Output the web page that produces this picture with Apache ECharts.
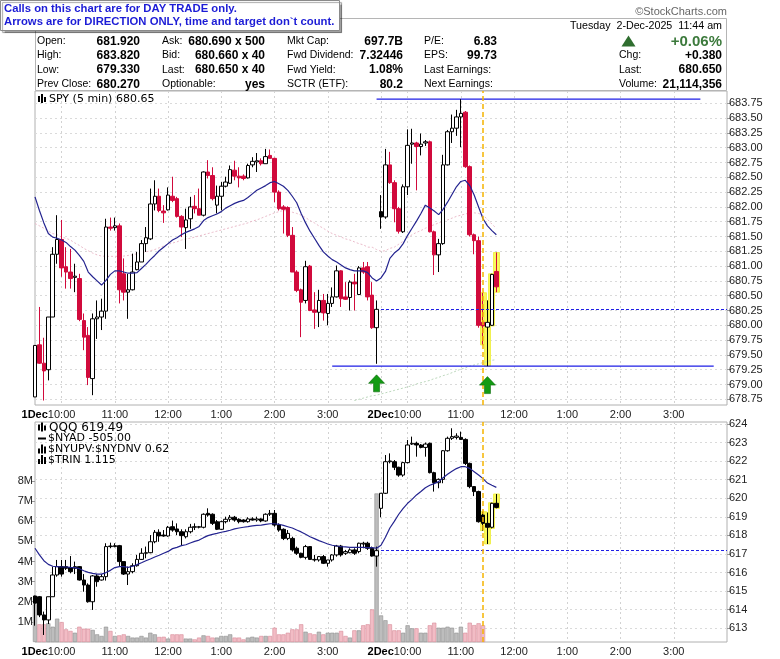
<!DOCTYPE html>
<html><head><meta charset="utf-8">
<script src="https://cdn.jsdelivr.net/npm/echarts@6/dist/echarts.min.js"></script>
<style>html,body{margin:0;padding:0;background:#fff}#c{width:780px;height:659px}</style>
</head><body><div id="c"></div>
<script>
// ---------- DATA ----------
const dayNames = ['1Dec', '2Dec'];
const spyTicks = [678.75,679.00,679.25,679.50,679.75,680.00,680.25,680.50,680.75,681.00,681.25,681.50,681.75,682.00,682.25,682.50,682.75,683.00,683.25,683.50,683.75];
const qqqTicks = [613,614,615,616,617,618,619,620,621,622,623,624];
const volTicks = [1,2,3,4,5,6,7,8];

// SPY 5-min candles [open, close, low, high]
const spyCandles = [
[678.79,679.66,678.79,679.66],[679.67,679.36,679.35,680.31],[679.36,679.23,678.73,679.79],[679.25,680.14,679.07,680.14],[680.14,681.20,680.14,681.32],
[681.20,681.45,681.04,681.86],[681.45,680.97,680.82,681.78],[680.99,680.90,680.62,681.32],[680.90,680.79,680.62,681.29],[680.81,680.83,680.56,681.04],
[680.79,680.10,680.07,680.87],[680.08,679.80,679.58,680.20],[679.83,679.12,678.99,679.97],[679.10,680.11,678.82,680.20],[680.11,680.14,679.77,680.42],
[680.14,680.24,679.92,680.45],[680.24,681.66,680.11,681.80],[681.66,681.64,681.60,681.82],[681.65,681.68,681.60,681.82],[681.68,680.60,680.37,681.72],
[680.87,680.56,680.42,681.13],[680.56,680.60,680.11,680.87],[680.60,680.90,680.59,681.21],[680.94,681.07,680.93,681.24],[681.07,681.38,681.07,681.44],
[681.38,681.48,681.24,681.66],[681.46,682.05,681.44,682.31],[682.05,682.18,681.94,682.45],[682.18,681.94,681.91,682.31],[681.93,681.90,681.73,682.03],
[681.95,682.20,681.94,682.33],[682.18,682.11,682.08,682.51],[682.14,681.84,681.82,682.17],[681.84,681.66,681.49,681.86],[681.65,681.78,681.29,681.97],
[681.80,682.00,681.63,682.17],[682.01,681.97,681.89,682.20],[681.97,681.86,681.86,682.31],[681.86,682.59,681.84,682.60],[682.59,682.53,682.48,682.79],
[682.53,682.14,682.11,682.67],[682.03,682.18,681.89,682.36],[682.18,682.35,681.94,682.42],[682.35,682.42,682.33,682.51],[682.40,682.63,682.39,682.70],
[682.62,682.52,682.45,682.78],[682.52,682.49,682.33,682.67],[682.52,682.48,682.45,682.55],[682.49,682.70,682.48,682.73],[682.71,682.77,682.67,682.84],
[682.76,682.78,682.59,682.91],[682.78,682.73,682.70,682.82],[682.73,682.85,682.73,682.98],[682.87,682.82,682.82,682.97],[682.82,682.25,682.08,682.83],
[682.25,681.97,681.94,682.28],[682.00,681.96,681.55,682.03],[681.99,681.52,681.49,682.01],[681.52,680.90,680.90,681.66],[680.90,680.59,680.56,680.93],
[680.60,680.39,679.80,680.62],[680.42,680.99,680.37,681.09],[681.00,680.25,680.24,681.02],[680.26,680.22,679.94,680.56],[680.22,680.42,679.97,680.60],
[680.42,680.21,680.08,680.53],[680.20,680.37,680.00,680.53],[680.37,680.48,680.31,680.64],[680.48,680.92,680.47,681.01],[680.92,680.45,680.31,680.93],
[680.48,680.44,680.43,680.73],[680.47,680.73,680.25,680.76],[680.73,680.70,680.25,680.87],[680.52,680.97,680.51,681.00],[680.97,680.90,680.87,681.07],
[680.99,680.48,680.42,681.07],[680.51,679.96,679.94,680.73],[679.96,680.27,679.35,680.42],
[681.92,681.83,681.63,682.20],[681.83,682.71,681.80,682.98],[682.71,682.41,682.39,682.93],[682.41,681.97,681.74,682.45],[681.97,681.59,681.55,682.00],
[681.58,682.34,681.56,682.38],[682.34,683.04,682.20,683.31],[683.06,683.08,682.73,683.32],[683.08,683.02,682.28,683.10],[683.02,683.06,682.87,683.24],
[683.08,683.10,683.03,683.13],[683.10,681.58,681.57,683.12],[681.58,681.19,680.85,681.60],[681.19,681.38,680.90,681.46],[681.38,682.71,681.36,682.88],
[682.71,683.27,682.70,683.30],[683.27,683.33,683.08,683.56],[683.33,683.52,683.20,683.64],[683.52,683.58,683.01,683.82],[683.60,682.68,682.66,683.62],
[682.68,681.53,681.50,682.70],[681.53,681.43,681.20,681.55],[681.43,680.00,679.96,681.50],[680.05,679.99,679.67,680.55],[679.97,680.05,679.31,680.42],
[680.00,680.86,679.99,680.87],[680.91,680.65,680.56,681.23]
];
const spyMA = [682.17,681.94,681.73,681.55,681.49,681.47,681.44,681.40,681.33,681.27,
681.18,681.08,680.90,680.82,680.75,680.68,680.76,680.86,680.92,680.92,
680.90,680.88,680.88,680.89,680.96,681.03,681.11,681.18,681.26,681.32,
681.38,681.44,681.48,681.53,681.57,681.60,681.63,681.67,681.77,681.82,
681.85,681.88,681.92,681.98,682.02,682.06,682.09,682.11,682.16,682.22,
682.28,682.32,682.36,682.41,682.43,682.39,682.35,682.28,682.18,682.07,
681.89,681.73,681.59,681.47,681.35,681.24,681.17,681.11,681.07,681.02,
680.97,680.94,680.92,680.92,680.92,680.89,680.80,680.75,680.80,680.91,
681.13,681.22,681.28,681.38,681.52,681.64,681.76,681.89,682.03,681.98,
681.93,681.87,681.96,682.08,682.21,682.34,682.43,682.45,682.36,682.20,
682.00,681.80,681.68,681.60,681.53];
const spyMA50 = [681.72,681.68,681.64,681.59,681.55,681.53,681.49,681.47,681.44,681.39,
681.35,681.30,681.26,681.22,681.19,681.17,681.165,681.165,681.165,681.165,
681.17,681.18,681.19,681.21,681.23,681.24,681.26,681.28,681.31,681.34,
681.37,681.39,681.41,681.44,681.46,681.47,681.49,681.51,681.53,681.55,
681.57,681.59,681.61,681.63,681.65,681.67,681.69,681.71,681.73,681.76,
681.78,681.81,681.84,681.87,681.90,681.92,681.94,681.93,681.91,681.89,
681.86,681.82,681.77,681.73,681.68,681.64,681.59,681.55,681.52,681.49,
681.46,681.44,681.41,681.38,681.36,681.32,681.32,681.28,681.25,681.26,
681.30,681.32,681.37,681.42,681.48,681.53,681.57,681.60,681.64,681.67,
681.70,681.73,681.76,681.78,681.81,681.84,681.86,681.88,681.90,681.90,
681.89,681.86,681.79,681.71,681.64];
const spyMA200Start = 72;
const spyMA200 = [678.73,678.75,678.77,678.79,678.81,678.82,678.84,678.86,678.88,678.90,678.92,678.94,678.96,678.98,679.01,679.03,679.05,679.07,679.10,679.12,679.15,679.17,679.20,679.23,679.26,679.28,679.31,679.33,679.35,679.37,679.39,679.41,679.42];

// QQQ 5-min candles [open, close, low, high]
const qqqCandles = [
[614.74,614.35,613.14,614.76],[614.70,613.72,613.60,614.74],[613.72,613.45,612.64,613.90],[613.45,614.70,613.23,614.70],[614.70,615.87,614.70,616.32],
[615.87,616.32,615.78,616.68],[616.32,615.92,615.78,616.68],[616.32,616.23,616.14,616.68],[616.27,616.05,615.96,616.89],[616.23,616.32,615.92,616.59],
[616.32,615.60,615.57,616.35],[615.60,615.33,614.97,615.92],[615.33,614.43,614.38,615.42],[614.43,615.82,613.99,615.87],[615.82,615.51,615.24,615.92],
[615.60,615.78,615.57,615.92],[615.78,617.40,615.57,617.58],[617.40,617.43,617.31,617.61],[617.40,617.45,617.36,617.58],[617.45,616.59,616.32,617.49],
[616.59,615.92,615.87,616.59],[615.92,616.05,615.33,616.32],[616.05,616.37,615.96,616.50],[616.37,616.71,616.32,616.95],[616.71,617.04,616.68,617.31],
[617.04,617.07,616.77,617.40],[617.07,617.66,617.04,618.02],[617.66,618.17,617.58,618.29],[618.17,617.97,617.66,618.33],[618.02,617.97,617.93,618.29],
[617.97,618.44,617.93,618.51],[618.47,618.29,618.20,618.80],[618.35,618.20,618.02,618.65],[618.20,617.99,617.43,618.33],[617.93,618.20,617.84,618.33],
[618.20,618.44,618.11,618.62],[618.44,618.47,618.29,618.65],[618.44,618.47,618.38,618.51],[618.44,619.14,618.38,619.19],[619.19,619.10,619.01,619.46],
[619.14,618.65,618.56,619.19],[618.74,618.33,618.29,618.83],[618.33,618.74,618.29,618.80],[618.74,618.87,618.65,619.01],[618.87,618.98,618.74,619.10],
[618.98,618.83,618.74,619.05],[618.87,618.74,618.65,618.92],[618.83,618.74,618.69,618.87],[618.74,618.89,618.69,618.98],[618.89,618.83,618.80,618.98],
[618.83,618.89,618.74,619.01],[618.89,618.78,618.71,618.92],[618.78,619.14,618.74,619.19],[619.14,619.19,619.05,619.37],[619.19,618.56,618.47,619.37],
[618.56,618.29,618.20,618.65],[618.33,617.84,617.75,618.38],[617.84,618.11,617.75,618.29],[617.84,617.22,617.13,617.93],[617.31,617.04,616.95,617.40],
[617.04,616.82,616.77,617.07],[616.82,617.40,616.71,617.49],[617.40,616.71,616.68,617.43],[616.68,616.71,616.59,616.95],[616.68,616.86,616.59,616.89],
[616.86,616.50,616.46,616.95],[616.50,616.68,616.32,616.68],[616.68,616.95,616.59,616.99],[616.95,617.43,616.86,617.49],[617.43,616.95,616.86,617.49],
[617.04,617.13,616.95,617.22],[617.07,617.22,617.04,617.31],[617.22,617.04,616.95,617.31],[617.13,617.58,617.04,617.61],[617.54,617.58,617.31,617.66],
[617.58,617.31,617.22,617.66],[617.31,616.89,616.86,617.40],[616.89,617.18,616.32,617.40],
[619.46,620.27,618.98,620.27],[620.27,621.97,620.23,622.33],[621.97,622.01,621.88,622.42],[621.97,621.67,621.52,622.06],[621.67,621.25,621.16,621.70],
[621.25,621.92,621.16,621.97],[621.92,622.87,621.88,623.14],[622.92,622.96,622.87,623.32],[622.96,622.87,622.24,623.05],[622.87,622.74,622.69,622.92],
[622.74,622.92,622.24,623.00],[622.96,621.38,621.34,623.00],[621.38,620.84,620.36,621.43],[620.84,621.02,620.54,621.07],[621.02,622.56,620.81,622.60],
[622.56,623.23,622.51,623.32],[623.23,623.32,623.14,623.77],[623.28,623.35,623.17,623.50],[623.28,623.17,623.14,623.59],[623.17,621.88,621.79,623.23],
[621.88,620.63,620.54,621.92],[620.63,620.36,620.12,620.66],[620.36,618.74,618.69,620.41],[619.10,618.65,618.26,619.28],[618.65,618.44,617.54,619.23],
[618.44,619.73,618.38,619.76],[619.73,619.51,619.46,620.23]
];
const qqqMA = [617.31,616.95,616.64,616.44,616.34,616.32,616.30,616.30,616.28,616.27,
616.21,616.10,616.01,615.96,615.92,615.92,616.00,616.12,616.27,616.32,
616.32,616.28,616.34,616.43,616.53,616.64,616.73,616.84,616.93,617.04,
617.14,617.29,617.36,617.45,617.50,617.59,617.68,617.75,617.88,617.99,
618.06,618.11,618.17,618.22,618.28,618.35,618.40,618.44,618.47,618.51,
618.54,618.56,618.60,618.63,618.63,618.60,618.54,618.47,618.40,618.29,
618.19,618.06,617.93,617.83,617.72,617.63,617.54,617.47,617.43,617.40,
617.38,617.36,617.36,617.36,617.36,617.34,617.34,617.31,617.47,617.90,
618.40,618.76,619.14,619.46,619.73,619.94,620.18,620.37,620.57,620.70,
620.79,620.90,621.11,621.29,621.45,621.60,621.70,621.70,621.61,621.43,
621.25,621.06,620.82,620.70,620.59];
// volume in millions
const volumeM = [1.87,0.88,0.88,0.93,0.76,1.16,0.99,0.63,0.55,0.46,
0.76,0.66,0.66,0.60,0.38,0.30,0.76,0.55,0.30,0.33,
0.38,0.30,0.22,0.22,0.30,0.22,0.46,0.38,0.25,0.26,
0.17,0.38,0.38,0.38,0.17,0.17,0.13,0.22,0.33,0.30,
0.22,0.22,0.30,0.30,0.38,0.22,0.22,0.13,0.22,0.26,
0.22,0.30,0.30,0.30,0.71,0.38,0.38,0.46,0.63,0.63,
0.88,0.51,0.43,0.38,0.51,0.38,0.46,0.46,0.46,0.55,
0.30,0.22,0.58,0.58,0.83,0.88,1.62,7.38,1.32,1.08,
0.88,0.58,0.58,0.46,0.83,0.68,0.68,0.46,0.46,0.83,
0.96,0.71,0.71,0.76,0.71,0.46,0.76,0.46,0.96,0.84,
0.93,0.83];

const spyPrevClose = 680.27, qqqPrevClose = 617.18;
const spyHighLine = 683.82, spyLowLine = 679.31;
const highLineSpan = [77, 150], lowLineSpan = [67, 153];
const highlightIdx = [101,102,103,104];
const markerIdx = 101;           // 11:25 vertical marker
const arrows = [[77, 679.02], [102, 678.99]];
const dec2Start = 78;

const quoteLabels = [['Open:','High:','Low:','Prev Close:'],['Ask:','Bid:','Last:','Optionable:'],['Mkt Cap:','Fwd Dividend:','Fwd Yield:','SCTR (ETF):'],['P/E:','EPS:','Last Earnings:','Next Earnings:'],['','Chg:','Last:','Volume:']];
const quoteValues = [['681.920','683.820','679.330','680.270'],['680.690 x 500','680.660 x 40','680.650 x 40','yes'],['697.7B','7.32446','1.08%','80.2'],['6.83','99.73','',''],['+0.06%','+0.380','680.650','21,114,356']];

// ---------- BUILD ----------
function pad(n){return (n<10?'0':'')+n;}
const categories = [];
for (let d=0; d<2; d++) for (let k=0; k<78; k++){ const m=570+5*k; categories.push(dayNames[d]+' '+pad(Math.floor(m/60))+':'+pad(m%60)); }
categories.push(dayNames[1]+' 16:00');

function isHour(i){ const t=categories[i].split(' ')[1]; const hh=+t.slice(0,2), mm=+t.slice(3); return mm===0 && hh>=10 && hh<=15; }
function isGrid(i){ return isHour(i) || i===dec2Start; }
function fmtX(value){
  const p=value.split(' '); const hh=+p[1].slice(0,2);
  if (hh===10) return '{d|'+p[0]+'}{t|10:00}{s|'+p[0]+'}';
  return '{t|'+(hh>12?hh-12:hh)+':00}';
}
const FONT='"Liberation Sans", Arial, sans-serif';
const RED='#d10a3c';
const BLUE='#1f1fe6';

const spyData = spyCandles.map((c,i)=>{
  const prev = i>0 ? spyCandles[i-1][1] : -Infinity;
  const col = c[1] >= prev ? '#000' : RED;
  const fill = c[1] > c[0] ? '#fff' : col;
  return {value:c, itemStyle:{color:fill,color0:fill,borderColor:col,borderColor0:col,borderColorDoji:col}};
});
const qqqData = qqqCandles.map(c=>{
  const fill = c[1] > c[0] ? '#fff' : '#000';
  return {value:c, itemStyle:{color:fill,color0:fill,borderColor:'#000',borderColor0:'#000',borderColorDoji:'#000'}};
});
const volData = volumeM.map((v,i)=>{
  const down = i>0 && spyCandles[i][1] < spyCandles[i-1][1];
  return {value:v, itemStyle:{color: down?'#f2bcc5':'#bdbdbd', borderColor: down?'#d68b99':'#8f8f8f', borderWidth:0.6}};
});
const spyHL = highlightIdx.map(i=>[i, spyCandles[i][2], spyCandles[i][3], spyCandles[i][2], spyCandles[i][3]]);
const qqqHL = highlightIdx.map(i=>[i, qqqCandles[i][2], qqqCandles[i][3], qqqCandles[i][2], qqqCandles[i][3]]);
const ma200Full = categories.map((_,i)=> (i>=spyMA200Start && i-spyMA200Start<spyMA200.length) ? spyMA200[i-spyMA200Start] : null);
const last = categories.length-1;
function levelLine(span, v){ return categories.map((_,i)=> (i>=span[0] && i<=span[1]) ? v : null); }

function xAxisCfg(g){
  return {type:'category', gridIndex:g, data:categories, boundaryGap:false,
    axisLine:{show:false}, axisTick:{show:false},
    axisLabel:{interval:(i)=>isHour(i), formatter:fmtX, margin:4,
      rich:{d:{fontWeight:'bold',fontSize:11,color:'#000',fontFamily:FONT},
            t:{fontSize:11,color:'#222',fontFamily:FONT},
            s:{fontWeight:'bold',fontSize:11,color:'rgba(0,0,0,0)',fontFamily:FONT}}},
    splitLine:{show:true, interval:(i)=>isGrid(i), lineStyle:{color:'#d2d2d2', type:[2,3], width:1}}};
}
function yRight(g,min,max,ticks,fmt){
  return {type:'value', gridIndex:g, position:'right', min:min, max:max, scale:true,
    axisLine:{show:false},
    axisTick:{show:true, length:4, customValues:ticks, lineStyle:{color:'#999'}},
    axisLabel:{customValues:ticks, formatter:fmt, margin:2, fontSize:11, color:'#222', fontFamily:FONT},
    splitLine:{show:true, customValues:ticks, lineStyle:{color:'#dadada', type:[2,3]}}};
}
const noLabel = {show:false};
const candleCommon = {type:'candlestick', barWidth:4, large:false, progressive:0, animation:false};

const hdr = [];
function T(x,y,text,o){ o=o||{}; hdr.push({type:'text', x:x, y:y, z:o.z||10, style:{text:text, fill:o.fill||'#000', fontSize:o.size||11, fontWeight:o.bold?'bold':'normal', fontFamily:o.family||FONT, align:o.align||'left', textAlign:o.align||'left', verticalAlign:'middle', textVerticalAlign:'middle'}}); }
// header frame
hdr.push({type:'rect', shape:{x:35.5,y:18.5,width:691,height:72}, style:{fill:'#fff', stroke:'#b5b5b5', lineWidth:1}, z:1});
const colLX=[37,162,287,424,619], colVX=[140,265,403,497,722], rowY=[41.5,55.5,70,84.5];
quoteLabels.forEach((col,ci)=>col.forEach((lab,ri)=>{ if(lab) T(colLX[ci],rowY[ri],lab,{size:10.5}); }));
quoteValues.forEach((col,ci)=>col.forEach((v,ri)=>{
  if(!v) return;
  if(ci===4 && ri===0) T(colVX[ci],rowY[ri],v,{size:15,bold:true,fill:'#3c7a3c',align:'right'});
  else T(colVX[ci],rowY[ri],v,{size:12,bold:true,align:'right'});
}));
hdr.push({type:'polygon', shape:{points:[[621.5,46.5],[628.5,35.5],[635.5,46.5]]}, style:{fill:'#2f6e2f'}, z:10});
T(722,26,'Tuesday  2-Dec-2025  11:44 am',{size:10.7,align:'right'});
T(727,12,'\u00a9StockCharts.com',{size:11,fill:'#666',align:'right'});
// note box
hdr.push({type:'rect', shape:{x:0.5,y:0.5,width:339,height:30}, style:{fill:'#fff', stroke:'#8a8a8a', lineWidth:1, shadowColor:'rgba(0,0,0,0.35)', shadowOffsetX:2, shadowOffsetY:2, shadowBlur:1}, z:20});
T(4,8.5,'Calls on this chart are for DAY TRADE only.',{size:11.3,bold:true,fill:'#1c1cd6',z:21});
T(4,21.5,'Arrows are for DIRECTION ONLY, time and target don`t count.',{size:11.3,bold:true,fill:'#1c1cd6',z:21});
// panel legends
function candleIcon(x,y){
  hdr.push({type:'rect',shape:{x:x,y:y-3,width:2,height:6},style:{fill:'#000'},z:10});
  hdr.push({type:'rect',shape:{x:x+3,y:y-5,width:2,height:9},style:{fill:'#000'},z:10});
  hdr.push({type:'rect',shape:{x:x+6,y:y-2,width:2,height:5},style:{fill:'#000'},z:10});
}
function barIcon(x,y){
  hdr.push({type:'rect',shape:{x:x,y:y-1,width:2,height:5},style:{fill:'#000'},z:10});
  hdr.push({type:'rect',shape:{x:x+3,y:y-5,width:2,height:9},style:{fill:'#000'},z:10});
  hdr.push({type:'rect',shape:{x:x+6,y:y-3,width:2,height:7},style:{fill:'#000'},z:10});
}
const LF='"DejaVu Sans", Verdana, sans-serif';
candleIcon(38,99); T(49,99,'SPY (5 min) 680.65',{size:11,family:LF});
candleIcon(38,427.5); T(49,427.5,'QQQ 619.49',{size:12,family:LF});
hdr.push({type:'rect',shape:{x:38,y:437.5,width:8,height:2},style:{fill:'#000'},z:10}); T(48,438.5,'$NYAD -505.00',{size:11,family:LF});
barIcon(38,449.5); T(48,449.5,'$NYUPV:$NYDNV 0.62',{size:11,family:LF});
barIcon(38,460); T(48,460,'$TRIN 1.115',{size:11,family:LF});

const arrowPath='path://M8,0 L16,8 L11,8 L11,16 L5,16 L5,8 L0,8 Z';
const dashBlue = {color:BLUE, type:[3,2], width:1};
const orange = {color:'#f5b400', type:[5,3], width:1.5};

const option = {
  animation:false, backgroundColor:'#fff',
  grid:[
    {left:35, right:53, top:91, height:314, show:true, borderColor:'#b0b0b0', borderWidth:1, backgroundColor:'#fff', containLabel:false},
    {left:35, right:53, top:422, height:220, show:true, borderColor:'#b0b0b0', borderWidth:1, backgroundColor:'#fff', containLabel:false}
  ],
  xAxis:[xAxisCfg(0), xAxisCfg(1)],
  yAxis:[
    yRight(0,678.654,683.958,spyTicks,v=>v.toFixed(2)),
    yRight(1,612.262,624.108,qqqTicks,v=>String(Math.round(v))),
    {type:'value', gridIndex:1, position:'left', min:0, max:10.93,
      axisLine:{show:false}, splitLine:{show:false},
      axisTick:{show:true, length:4, customValues:volTicks, lineStyle:{color:'#999'}},
      axisLabel:{customValues:volTicks, formatter:v=>Math.round(v)+'M', margin:2, fontSize:11, color:'#222', fontFamily:FONT}}
  ],
  graphic:{elements:hdr},
  series:[
    Object.assign({}, candleCommon, {name:'hlSPY', xAxisIndex:0, yAxisIndex:0, z:1, barWidth:6.5, encode:{x:0,y:[1,2,3,4]}, data:spyHL,
      itemStyle:{color:'#f9f95c',color0:'#f9f95c',borderColor:'#f0f050',borderColor0:'#f0f050',borderWidth:1}}),
    {type:'line', name:'ma200', xAxisIndex:0, yAxisIndex:0, data:ma200Full, showSymbol:false, z:2, lineStyle:{color:'#bcd8bc', width:1, type:[2,2]}, silent:true},
    {type:'line', name:'ma50', xAxisIndex:0, yAxisIndex:0, data:spyMA50, showSymbol:false, z:2, lineStyle:{color:'#ebbccb', width:1, type:[2,2]}, silent:true},
    {type:'line', name:'highLevel', xAxisIndex:0, yAxisIndex:0, data:levelLine(highLineSpan, spyHighLine), showSymbol:false, z:2, color:BLUE, lineStyle:{color:BLUE, width:1.2}, silent:true},
    {type:'line', name:'lowLevel', xAxisIndex:0, yAxisIndex:0, data:levelLine(lowLineSpan, spyLowLine), showSymbol:false, z:2, color:BLUE, lineStyle:{color:BLUE, width:1.2}, silent:true},
    Object.assign({}, candleCommon, {name:'SPY', xAxisIndex:0, yAxisIndex:0, z:3, data:spyData, itemStyle:{borderWidth:1},
      markLine:{silent:true, symbol:['none','none'], label:noLabel, animation:false, data:[
        [{coord:[dec2Start, spyPrevClose], lineStyle:dashBlue}, {coord:[last, spyPrevClose], lineStyle:dashBlue}],
        {xAxis:markerIdx, lineStyle:orange}
      ]},
      markPoint:{silent:true, animation:false, symbol:arrowPath, symbolSize:[16,17], label:noLabel,
        itemStyle:{color:'#139b13', borderColor:'#0a6a0a', borderWidth:0.6},
        data:arrows.map(a=>({coord:a}))}
    }),
    {type:'line', name:'ma', xAxisIndex:0, yAxisIndex:0, data:spyMA, showSymbol:false, z:4, lineStyle:{color:'#23238f', width:1.2}, silent:true},

    {type:'bar', name:'vol', xAxisIndex:1, yAxisIndex:2, data:volData, barWidth:4.2, z:1, silent:true},
    Object.assign({}, candleCommon, {name:'hlQQQ', xAxisIndex:1, yAxisIndex:1, z:2, barWidth:6.5, encode:{x:0,y:[1,2,3,4]}, data:qqqHL,
      itemStyle:{color:'#f9f95c',color0:'#f9f95c',borderColor:'#f0f050',borderColor0:'#f0f050',borderWidth:1}}),
    Object.assign({}, candleCommon, {name:'QQQ', xAxisIndex:1, yAxisIndex:1, z:3, data:qqqData, itemStyle:{borderWidth:1},
      markLine:{silent:true, symbol:['none','none'], label:noLabel, animation:false, data:[
        [{coord:[dec2Start, qqqPrevClose], lineStyle:dashBlue}, {coord:[last, qqqPrevClose], lineStyle:dashBlue}],
        {xAxis:markerIdx, lineStyle:orange}
      ]}
    }),
    {type:'line', name:'qma', xAxisIndex:1, yAxisIndex:1, data:qqqMA, showSymbol:false, z:4, lineStyle:{color:'#23238f', width:1.2}, silent:true}
  ]
};
const chart = echarts.init(document.getElementById('c'));
chart.setOption(option);
</script>
</body></html>
